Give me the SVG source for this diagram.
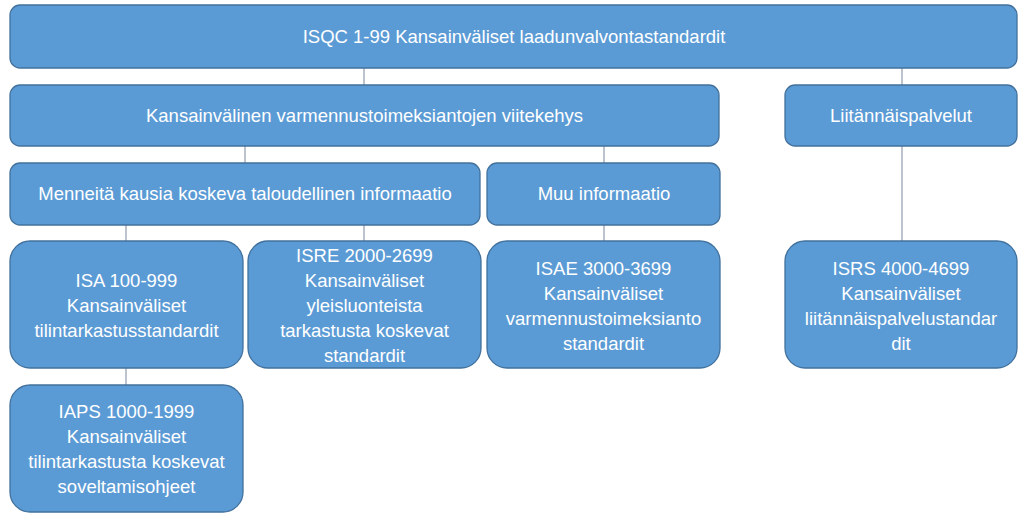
<svg xmlns="http://www.w3.org/2000/svg" width="1024" height="518" viewBox="0 0 1024 518">
<style>
.box{fill:#5b9bd5;stroke:#41719c;stroke-width:1.3}
.t{fill:#ffffff;font-family:"Liberation Sans",Arial,sans-serif;font-size:18.5px;text-anchor:middle}
.c{stroke:#8f9baa;stroke-width:1.2;fill:none}
</style>
<rect width="1024" height="518" fill="#ffffff"/>
<g id="connectors">
<line class="c" x1="364" y1="68" x2="364" y2="85"/>
<line class="c" x1="902" y1="68" x2="902" y2="85"/>
<line class="c" x1="245" y1="146" x2="245" y2="163"/>
<line class="c" x1="604" y1="146" x2="604" y2="163"/>
<line class="c" x1="902" y1="146" x2="902" y2="241"/>
<line class="c" x1="126" y1="225" x2="126" y2="241"/>
<line class="c" x1="364" y1="225" x2="364" y2="241"/>
<line class="c" x1="604" y1="225" x2="604" y2="241"/>
<line class="c" x1="126" y1="368" x2="126" y2="385"/>
</g>
<g id="isqc">
<rect class="box" x="10" y="5" width="1007" height="63" rx="10"/>
<text class="t" x="514" y="43">ISQC 1-99 Kansainväliset laadunvalvontastandardit</text>
</g>
<g id="viitekehys">
<rect class="box" x="10" y="85" width="709" height="61" rx="10"/>
<text class="t" x="364.5" y="122">Kansainvälinen varmennustoimeksiantojen viitekehys</text>
</g>
<g id="liitannaispalvelut">
<rect class="box" x="785" y="85" width="232" height="61" rx="10"/>
<text class="t" x="901" y="122">Liitännäispalvelut</text>
</g>
<g id="menneita">
<rect class="box" x="10" y="163" width="470" height="62" rx="10"/>
<text class="t" x="245" y="200">Menneitä kausia koskeva taloudellinen informaatio</text>
</g>
<g id="muu">
<rect class="box" x="487" y="163" width="233" height="62" rx="10"/>
<text class="t" x="604" y="200">Muu informaatio</text>
</g>
<g id="isa">
<rect class="box" x="10" y="241" width="233" height="127" rx="20"/>
<text class="t" x="126.5" y="287">ISA 100-999</text>
<text class="t" x="126.5" y="312">Kansainväliset</text>
<text class="t" x="126.5" y="337">tilintarkastusstandardit</text>
</g>
<g id="isre">
<rect class="box" x="248" y="241" width="233" height="127" rx="20"/>
<text class="t" x="364.5" y="262">ISRE 2000-2699</text>
<text class="t" x="364.5" y="287">Kansainväliset</text>
<text class="t" x="364.5" y="312">yleisluonteista</text>
<text class="t" x="364.5" y="337">tarkastusta koskevat</text>
<text class="t" x="364.5" y="362">standardit</text>
</g>
<g id="isae">
<rect class="box" x="487" y="241" width="233" height="127" rx="20"/>
<text class="t" x="603.5" y="275">ISAE 3000-3699</text>
<text class="t" x="603.5" y="300">Kansainväliset</text>
<text class="t" x="603.5" y="325">varmennustoimeksianto</text>
<text class="t" x="603.5" y="350">standardit</text>
</g>
<g id="isrs">
<rect class="box" x="785" y="241" width="232" height="127" rx="20"/>
<text class="t" x="901" y="275">ISRS 4000-4699</text>
<text class="t" x="901" y="300">Kansainväliset</text>
<text class="t" x="901" y="325">liitännäispalvelustandar</text>
<text class="t" x="901" y="350">dit</text>
</g>
<g id="iaps">
<rect class="box" x="10" y="385" width="233" height="127" rx="20"/>
<text class="t" x="126.5" y="418">IAPS 1000-1999</text>
<text class="t" x="126.5" y="443">Kansainväliset</text>
<text class="t" x="126.5" y="468">tilintarkastusta koskevat</text>
<text class="t" x="126.5" y="493">soveltamisohjeet</text>
</g>
</svg>
